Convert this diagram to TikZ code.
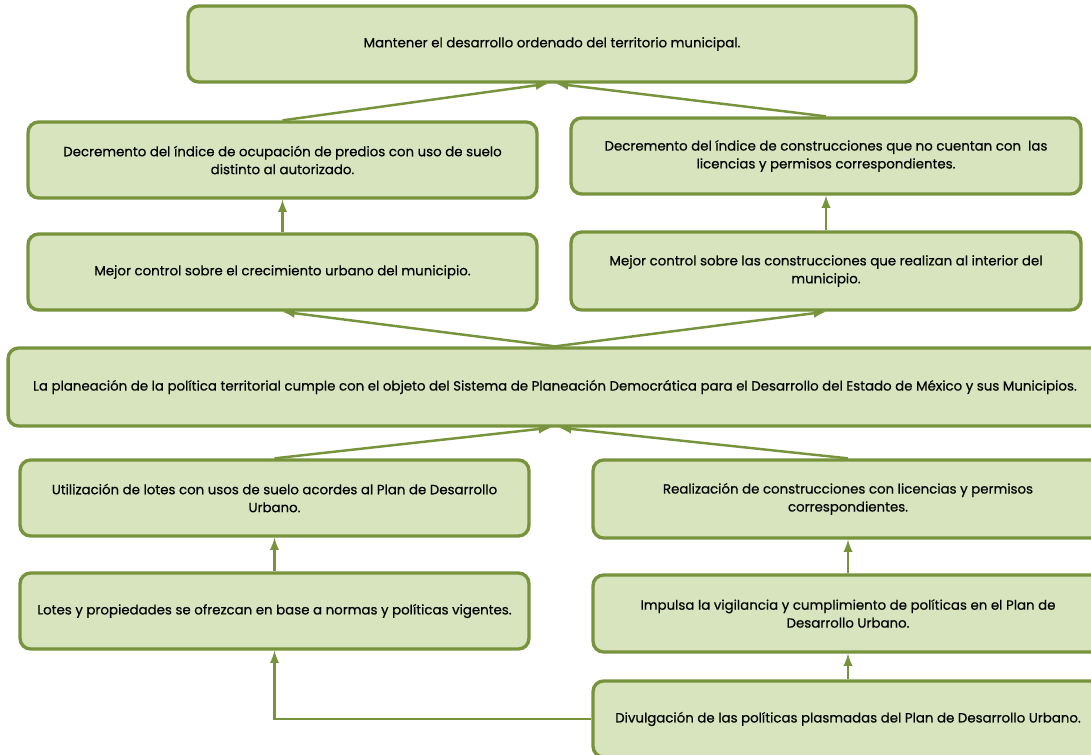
\documentclass[tikz,border=0pt]{standalone}
\usepackage{fontspec}
\setmainfont{Poppins}[FakeBold=0.4]
\usepackage{tikz}
\usetikzlibrary{positioning, calc, arrows}
\definecolor{verde}{HTML}{77933C}
\definecolor{verdeclaro}{HTML}{D7E4BD}
\tikzset{caja/.style={draw=verde, fill=verdeclaro, line width=1.9pt, rounded corners=6pt,
    align=center, minimum height=1.52cm, inner sep=2pt,
    font=\fontsize{7.6}{10.2}\selectfont}}
\tikzset{flecha/.style={-latex, draw=verde, line width=1.4pt}}

\begin{document}
\begin{tikzpicture}[x=0.02cm, y=-0.02cm]
      \useasboundingbox (0,0) rectangle (1091,754);

      \node[caja, minimum width=14.56cm] (c0) at (552,44) {Mantener el desarrollo ordenado del territorio municipal.};

      \node[caja, minimum width=10.18cm] (c1) at (282.5,160) {Decremento del índice de ocupación de predios con uso de suelo\\ distinto al autorizado.};
      \node[caja, minimum width=10.2cm] (c2) at (826,156) {Decremento del índice de construcciones que no cuentan con \ las\\ licencias y permisos correspondientes.};

      \node[caja, minimum width=10.18cm] (c3) at (282.5,272) {Mejor control sobre el crecimiento urbano del municipio.};
      \node[caja, minimum width=10.2cm, minimum height=1.56cm] (c4) at (826,271) {Mejor control sobre las construcciones que realizan al interior del\\ municipio.};

      \node[caja, minimum width=21.88cm, minimum height=1.56cm] (c5) at (555,387) {La planeación de la política territorial cumple con el objeto del Sistema de Planeación Democrática para el Desarrollo del Estado de México y sus Municipios.};

      \node[caja, minimum width=10.18cm] (c6) at (274.5,498) {Utilización de lotes con usos de suelo acordes al Plan de Desarrollo\\ Urbano.};
      \node[caja, minimum width=10.2cm, minimum height=1.56cm] (c7) at (848,499) {Realización de construcciones con licencias y permisos\\ correspondientes.};

      \node[caja, minimum width=10.18cm] (c8) at (274.5,611) {Lotes y propiedades se ofrezcan en base a normas y políticas vigentes.};
      \node[caja, minimum width=10.2cm, minimum height=1.54cm] (c9) at (848,613.5) {Impulsa la vigilancia y cumplimiento de políticas en el Plan de\\ Desarrollo Urbano.};

      \node[caja, minimum width=10.2cm] (c10) at (848,719) {Divulgación de las políticas plasmadas del Plan de Desarrollo Urbano.};

      % arriba
      \draw[flecha] (c1.north) -- ($(c0.south)+(-4,0)$);
      \draw[flecha] (c2.north) -- ($(c0.south)+(4,0)$);
      \draw[flecha] (c3) -- (c1);
      \draw[flecha] (c4) -- (c2);
      \draw[flecha] (c5.north) -- (c3.south);
      \draw[flecha] (c5.north) -- (c4.south);

      % abajo
      \draw[flecha] (c6.north) -- ($(c5.south)+(-4,0)$);
      \draw[flecha] (c7.north) -- ($(c5.south)+(4,0)$);
      \draw[flecha] (c8) -- (c6);
      \draw[flecha] (c9) -- (c7);
      \draw[flecha] (c10) -- (c9);
      \draw[flecha] (c10.west) -| (c8.south);

\end{tikzpicture}
\end{document}
